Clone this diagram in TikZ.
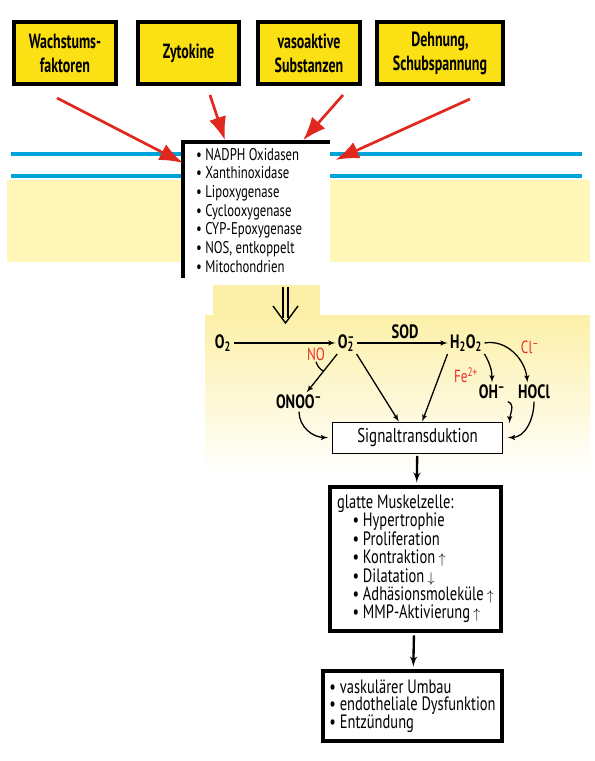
\documentclass[tikz,border=0pt]{standalone}
\usepackage{fontspec}
\setmainfont{PT Sans}[FakeStretch=0.75]
\newfontfamily\headfont{PT Sans}[FakeStretch=0.68]
\usetikzlibrary{arrows,arrows.meta}

\definecolor{causeyellow}{HTML}{FBE013}
\definecolor{arrowred}{HTML}{E0281E}
\definecolor{membrane}{HTML}{00A4D8}
\definecolor{cytoplasm}{HTML}{FFF6B8}
\definecolor{haze}{HTML}{FCF0A8}
\definecolor{labelred}{HTML}{E8302A}

\newcommand{\ion}[2]{\rlap{\textsuperscript{#2}}\textsubscript{#1}}
\newcommand{\bul}{\textbullet~}
\newcommand{\up}{\,{\fontsize{12}{12}\selectfont$\uparrow$}}
\newcommand{\down}{\,{\fontsize{12}{12}\selectfont$\downarrow$}}

\begin{document}
\begin{tikzpicture}
    [
    x=0.03cm,y=-0.03cm,
    cause/.style={draw,line width=3.4pt,fill=causeyellow,minimum width=3.06cm,minimum height=1.86cm,align=center,font=\headfont\fontsize{17.5}{20.5}\selectfont\bfseries},
    redarrow/.style={draw=arrowred,line width=2.3pt,-{Latex[length=20pt,width=15pt]}},
    chem/.style={font=\fontsize{16.5}{18}\selectfont\bfseries,inner sep=2pt},
    catalyst/.style={text=labelred,font=\fontsize{15}{17}\selectfont,inner sep=1pt},
    edge/.style={->,>=latex',line width=1.1pt},
    flow/.style={->,>=latex',line width=2pt,shorten <=2pt,shorten >=2pt},
    result/.style={draw,line width=3.4pt,fill=white,align=flush left,font=\fontsize{16.5}{15.7}\selectfont}
    ]
\useasboundingbox (0,0) rectangle (595,761);
% Membran und Zellinneres
\fill[cytoplasm] (7,180) rectangle (590,262);
\draw[membrane,line width=4.2pt] (11,154) -- (582,154);
\draw[membrane,line width=4.2pt] (11,176) -- (582,176);
\fill[haze] (213,285) rectangle (320,318);
\shade[top color=haze,bottom color=white] (205,315) rectangle (590,475);

% Ausloeser
\node[cause] (wf) at (65,53) {Wachstums-\\faktoren};
\node[cause,minimum width=3.03cm] (zk) at (188.5,53) {Zytokine};
\node[cause] (vs) at (309,53) {vasoaktive\\Substanzen};
\node[cause,minimum width=3.78cm] (ds) at (440,53) {Dehnung,\\Schubspannung};

% Quellen
\node[fill=white,minimum width=4.41cm,minimum height=4.08cm,text width=3.63cm,anchor=north west,align=flush left,inner sep=0pt,font=\fontsize{14.5}{15.9}\selectfont] (enz) at (183,142)
    {\bul NADPH Oxidasen\\\bul Xanthinoxidase\\\bul Lipoxygenase\\\bul Cyclooxygenase\\\bul CYP-Epoxygenase\\\bul NOS, entkoppelt\\\bul Mitochondrien};
\draw[line width=3.4pt] (enz.south west) -- (enz.north west) -- (enz.north east);

\draw[redarrow] ([xshift=-0.24cm,yshift=-0.36cm]wf.south) -- ([yshift=-0.63cm]enz.north west);
\draw[redarrow] ([xshift=0.645cm,yshift=-0.27cm]zk.south) -- ([xshift=1.26cm,yshift=0.05cm]enz.north west);
\draw[redarrow] ([xshift=1.02cm,yshift=-0.27cm]vs.south) -- ([xshift=3.6cm,yshift=0.05cm]enz.north west);
\draw[redarrow] ([xshift=0.9cm,yshift=-0.39cm]ds.south) -- ([xshift=0.15cm,yshift=-0.54cm]enz.north east);

% Doppelpfeil
\draw[line width=1.2pt] (283,287) -- (283,318) (288,287) -- (288,318);
\draw[line width=1.2pt] (273,306) -- (285.5,323) -- (298,306);

% Reaktionen
\node[chem] (o2) at (223,343) {O\textsubscript{2}};
\node[chem] (o2m) at (346,343) {O\ion{2}{–}};
\node[chem] (hoo) at (466,343) {H\textsubscript{2}O\textsubscript{2}};
\node[chem] (onoo) at (299,402) {ONOO\textsuperscript{–}};
\node[chem] (oh) at (492,392) {OH\textsuperscript{–}};
\node[chem] (hocl) at (534,392) {HOCl};
\node[chem] (sod) at (405,332) {SOD};
\node[catalyst] (no) at (316,354) {NO};
\node[catalyst] (cl) at (530,347) {Cl\textsuperscript{–}};
\node[catalyst] (fe) at (466,375) {Fe\textsuperscript{2+}};
\node[draw,fill=white,line width=0.8pt,minimum width=5.1cm,minimum height=0.93cm,font=\fontsize{17}{18}\selectfont] (sig) at (417.5,437.5) {Signaltransduktion};

\draw[edge] (o2) -- (o2m);
\draw[edge] (o2m) -- (hoo);
\draw[edge] (o2m) -- coordinate[pos=0.45] (nojoin) (onoo);
\draw[line width=1.1pt] (no.south) to[bend right=20] (nojoin);
\draw[edge] (o2m.south east) -- ([xshift=-0.56cm]sig.north);
\draw[edge] (hoo.south west) -- ([xshift=0.14cm]sig.north);
\draw[edge] (hoo.south east) to[bend left=15] (oh.north);
\draw[edge] (hoo.east) to[out=10,in=95] ([xshift=-0.2cm]hocl.north);
\draw[edge] (oh.south east) to[out=-20,in=90] ([xshift=0.2cm,yshift=-0.05cm]sig.north east);
\draw[edge] (hocl.south) to[out=-90,in=0] ([xshift=0.15cm]sig.east);
\draw[edge] (onoo.south) to[out=-90,in=180] ([xshift=-0.12cm]sig.west);

% Folgen
\node[result,minimum width=5.13cm,minimum height=4.32cm] (smc) at (415.5,559)
    {glatte Muskelzelle:\\\hspace*{0.8em}\bul Hypertrophie\\\hspace*{0.8em}\bul Proliferation\\\hspace*{0.8em}\bul Kontraktion\up\\\hspace*{0.8em}\bul Dilatation\down\\\hspace*{0.8em}\bul Adhäsionsmoleküle\up\\\hspace*{0.8em}\bul MMP-Aktivierung\up};
\node[result,minimum width=5.37cm,minimum height=2.1cm,font=\fontsize{16.5}{15}\selectfont] (out) at (412.5,706)
    {\bul vaskulärer Umbau\\\bul endotheliale Dysfunktion\\\bul Entzündung};

\draw[flow] (sig) -- (smc);
\draw[flow] (smc) -- (out);
\end{tikzpicture}
\end{document}
